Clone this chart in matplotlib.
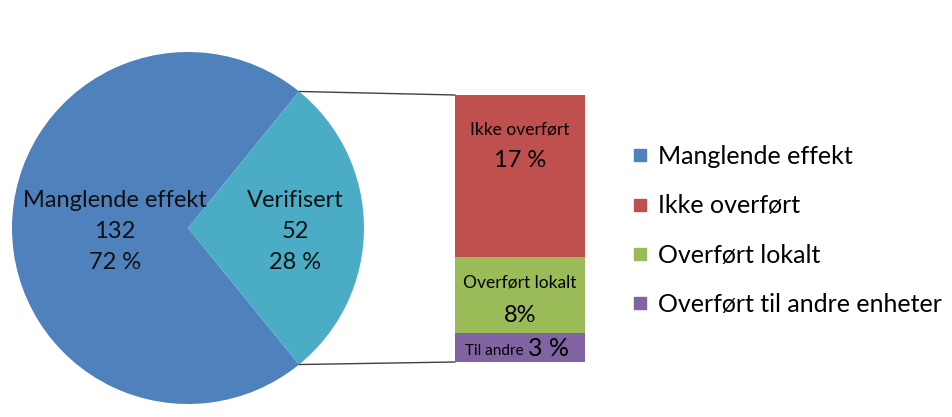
import matplotlib.pyplot as plt
from matplotlib.patches import ConnectionPatch
from matplotlib.lines import Line2D
import numpy as np

plt.rcParams['font.family'] = ['Lato', 'DejaVu Sans']

# pie data
pie_names = ['Manglende effekt', 'Verifisert']
pie_counts = [132, 52]
pie_pct = ['72 %', '28 %']
pie_colors = ['#4F81BD', '#4BACC6']

# breakdown of "Verifisert" (bottom to top)
bar_names = ['Til andre', 'Overført lokalt', 'Ikke overført']
bar_values = [3, 8, 17]
bar_labels = ['3 %', '8%', '17 %']
bar_colors = ['#8064A2', '#9BBB59', '#C0504D']

legend_names = ['Manglende effekt', 'Ikke overført', 'Overført lokalt',
                'Overført til andre enheter']
legend_colors = ['#4F81BD', '#C0504D', '#9BBB59', '#8064A2']

W, H = 952, 417
fig = plt.figure(figsize=(9.52, 4.17), dpi=100)

# pie
ax1 = fig.add_axes([12 / W, 13 / H, 352 / W, 352 / H])
frac = pie_counts[1] / sum(pie_counts)
ang = frac * 180
ax1.pie(pie_counts, colors=pie_colors, startangle=ang, counterclock=True,
        radius=1, wedgeprops=dict(linewidth=0))
ax1.set_xlim(-1, 1)
ax1.set_ylim(-1, 1)
ax1.set_aspect('equal')
ax1.axis('off')
pie_pos = [(-0.415, -0.02), (0.608, -0.02)]
for (x, y), n, c, p in zip(pie_pos, pie_names, pie_counts, pie_pct):
    ax1.text(x, y, f'{n}\n{c}\n{p}', ha='center', va='center', fontsize=17,
             linespacing=1.6, color='#111111')

# stacked bar
ax2 = fig.add_axes([455 / W, 55 / H, 130 / W, 267 / H])
bottom = 0
for v, col in zip(bar_values, bar_colors):
    ax2.bar(0, v, width=1, bottom=bottom, color=col, linewidth=0)
    bottom += v
ax2.set_xlim(-0.5, 0.5)
ax2.set_ylim(0, sum(bar_values))
ax2.axis('off')

ax2.text(0, 24.4, bar_names[2], ha='center', va='center', fontsize=12.5)
ax2.text(0, 21.1, bar_labels[2], ha='center', va='center', fontsize=17)
ax2.text(0, 8.3, bar_names[1], ha='center', va='center', fontsize=12.5)
ax2.text(0, 4.9, bar_labels[1], ha='center', va='center', fontsize=17)
ax2.text(-0.2, 1.2, bar_names[0], ha='center', va='center', fontsize=11)
ax2.text(0.22, 1.4, bar_labels[0], ha='center', va='center', fontsize=18)

# connecting lines
th = np.deg2rad(ang)
for sign, ytop in [(1, sum(bar_values)), (-1, 0)]:
    con = ConnectionPatch(xyA=(np.cos(th), sign * np.sin(th)), coordsA=ax1.transData,
                          xyB=(-0.5, ytop), coordsB=ax2.transData,
                          color='#404040', linewidth=1)
    fig.add_artist(con)

handles = [Line2D([], [], marker='s', linestyle='none', markersize=9,
                  markerfacecolor=c, markeredgecolor=c) for c in legend_colors]
fig.legend(handles, legend_names, loc='upper left',
           bbox_to_anchor=(630 / W, 1 - 145 / H), frameon=False, fontsize=18,
           handlelength=0.8, handletextpad=0.3, labelspacing=1.05,
           borderaxespad=0, borderpad=0)

plt.savefig('out.png', dpi=100)
